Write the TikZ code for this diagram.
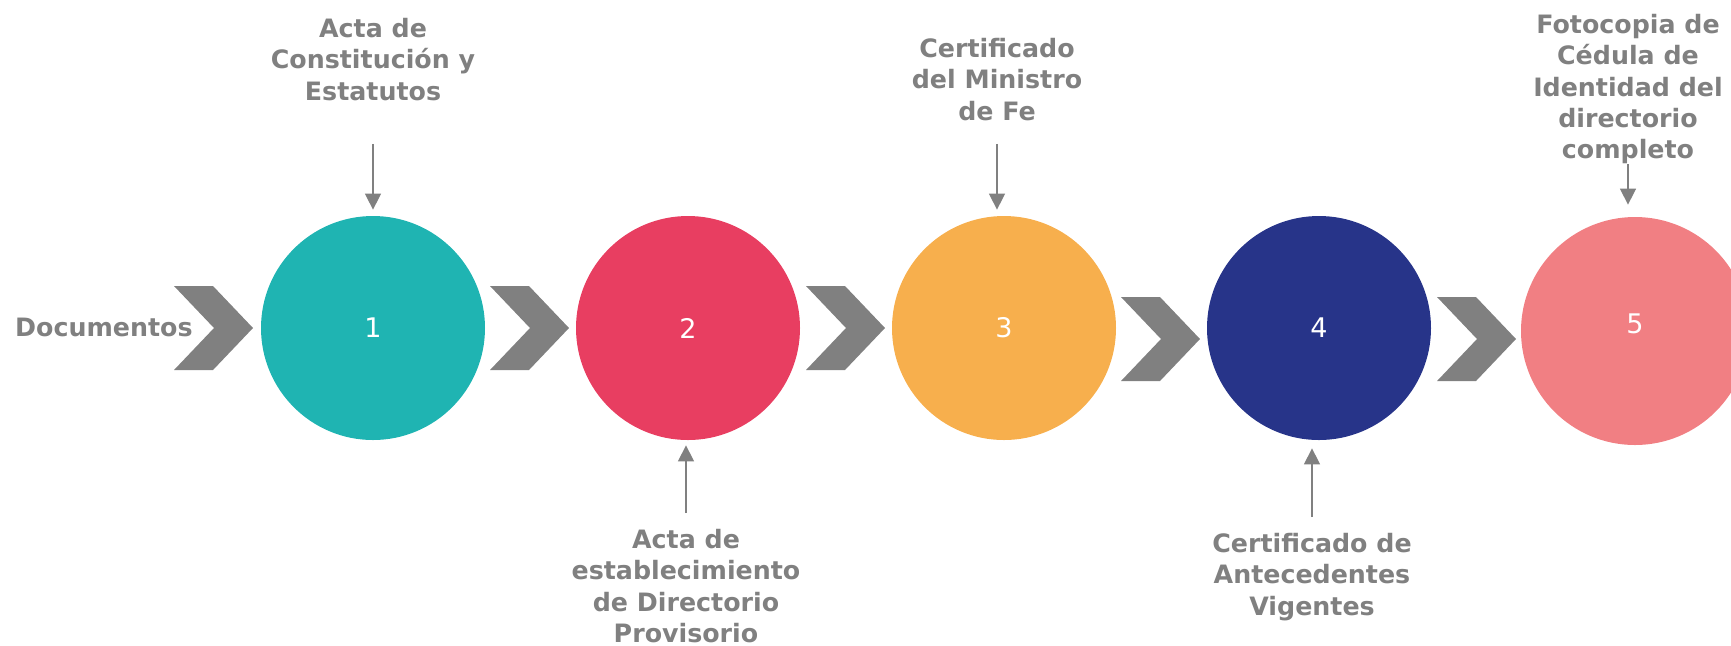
\documentclass[tikz,border=0pt]{standalone}
\usepackage{fontspec}
\setmainfont{DejaVu Sans}
\usetikzlibrary{arrows.meta}
\definecolor{stepteal}{RGB}{31,180,178}
\definecolor{steppink}{RGB}{232,62,97}
\definecolor{steporange}{RGB}{247,175,77}
\definecolor{stepnavy}{RGB}{39,52,137}
\definecolor{stepsalmon}{RGB}{241,127,131}
\definecolor{txtgray}{RGB}{128,128,128}
\def\chevron(#1,#2)% Syntax: (left x, middle y)
    { \fill[txtgray] (#1,#2-42) -- ++(39,0) -- ++(40,42) -- ++(-40,42) -- ++(-39,0) -- ++(40,-42) -- cycle; }

\begin{document}
\begin{tikzpicture}[x=0.5pt,y=-0.5pt,
    >={Triangle[length=8pt,width=8pt]},
    circ/.style={circle,minimum size=112pt,inner sep=0pt,text=white,font=\fontsize{13.5}{16}\selectfont},
    lbl/.style={font=\bfseries\fontsize{12.65}{15.6}\selectfont,text=txtgray,align=center,inner sep=0pt,anchor=north},
    feed/.style={->,draw=txtgray,line width=0.75pt}]
   \useasboundingbox (0,0) rectangle (1731,645);

   % circles
   \node[circ,fill=stepteal]   (c1) at (373,328)  {1};
   \node[circ,fill=steppink]   (c2) at (688,328)  {2};
   \node[circ,fill=steporange] (c3) at (1004,328) {3};
   \node[circ,fill=stepnavy]   (c4) at (1319,328) {4};
   \node[circ,fill=stepsalmon,minimum size=114pt] (c5) at (1635,331) {\raisebox{7pt}{5}};

   % chevrons
   \chevron(174,328)
   \chevron(490,328)
   \chevron(806,328)
   \chevron(1121,339)
   \chevron(1437,339)

   \node[lbl,anchor=base east] (doc) at (193,336) {Documentos};

   % labels above
   \node[lbl] (l1) at (373,18)  {Acta de\\Constitución y\\Estatutos};
   \node[lbl] (l3) at (997,38)  {Certificado\\del Ministro\\de Fe};
   \node[lbl] (l5) at (1628,14) {Fotocopia de\\Cédula de\\Identidad del\\directorio\\completo};
   % labels below
   \node[lbl] (l2) at (686,529)  {Acta de\\establecimiento\\de Directorio\\Provisorio};
   \node[lbl] (l4) at (1312,533) {Certificado de\\Antecedentes\\Vigentes};

   \draw[feed,shorten <=21.5pt,shorten >=3pt] (l1.south) -- (l1.south |- c1.north);
   \draw[feed,shorten <=11.5pt,shorten >=3pt] (l3.south) -- (l3.south |- c3.north);
   \draw[feed,shorten >=6pt] (l5.south) -- (l5.south |- c5.north);
   \draw[feed,shorten <=8pt,shorten >=2.5pt] (l2.north) -- (l2.north |- c2.south);
   \draw[feed,shorten <=8pt,shorten >=4pt] (l4.north) -- (l4.north |- c4.south);
\end{tikzpicture}
\end{document}
